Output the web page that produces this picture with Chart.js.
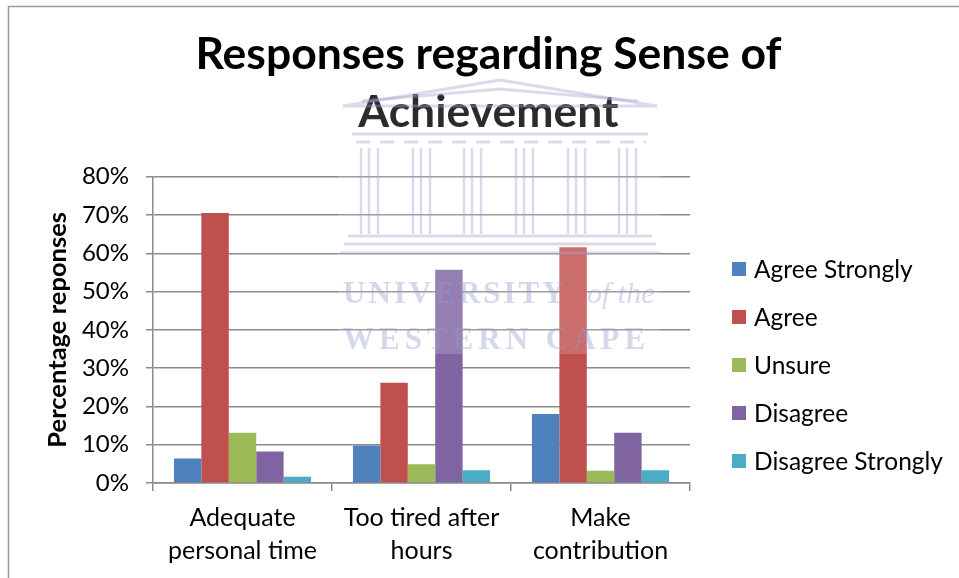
<!DOCTYPE html>
<html>
<head>
<meta charset="utf-8">
<script src="https://cdn.jsdelivr.net/npm/chart.js@4.4.1/dist/chart.umd.min.js"></script>
<style>
html,body{margin:0;padding:0;background:#fff;}
#wrap{width:959px;height:578px;position:relative;}
</style>
</head>
<body>
<div id="wrap"><canvas id="c" width="959" height="578"></canvas></div>
<script>
// ---- data ----
const categories = [['Adequate', 'personal time'], ['Too tired after', 'hours'], ['Make', 'contribution']];
const seriesNames = ['Agree Strongly', 'Agree', 'Unsure', 'Disagree', 'Disagree Strongly'];
const agreeStrongly = [6.4, 9.8, 18.0];
const agree = [70.5, 26.2, 61.6];
const unsure = [13.1, 4.9, 3.2];
const disagree = [8.2, 55.7, 13.1];
const disagreeStrongly = [1.6, 3.3, 3.3];
const yTickMin = 0, yTickMax = 80, yTickStep = 10;
const titleLines = ['Responses regarding Sense of', 'Achievement'];
const yAxisTitle = 'Percentage reponses';
const watermarkLines = ['UNIVERSITY', 'of the', 'WESTERN CAPE'];

const colors = ['#4F81BD', '#C0504D', '#9BBB59', '#8064A2', '#4BACC6'];
const seriesValues = [agreeStrongly, agree, unsure, disagree, disagreeStrongly];

const FONT = 'Lato';

const framePlugin = {
  id: 'frame',
  beforeDraw(chart) {
    const ctx = chart.ctx;
    ctx.save();
    ctx.fillStyle = '#fff';
    ctx.fillRect(0, 0, chart.width, chart.height);
    ctx.strokeStyle = '#9a9a9a';
    ctx.lineWidth = 1.5;
    ctx.beginPath();
    ctx.moveTo(8.5, chart.height + 2);
    ctx.lineTo(8.5, 6.5);
    ctx.lineTo(chart.width + 2, 6.5);
    ctx.stroke();
    ctx.restore();
  }
};

const watermarkPlugin = {
  id: 'watermark',
  afterDatasetsDraw(chart) {
    const ctx = chart.ctx;
    ctx.save();
    ctx.fillStyle = 'rgba(255,255,255,0.17)';
    ctx.fillRect(338, 76, 322, 278);
    ctx.strokeStyle = 'rgba(160,165,208,0.40)';
    ctx.lineWidth = 3;
    // pediment
    ctx.beginPath();
    ctx.moveTo(343, 106); ctx.lineTo(500, 80); ctx.lineTo(657, 106); ctx.closePath();
    ctx.stroke();
    ctx.beginPath();
    ctx.moveTo(362, 101); ctx.lineTo(500, 89); ctx.lineTo(638, 101);
    ctx.stroke();
    // entablature
    ctx.beginPath();
    ctx.moveTo(352, 134); ctx.lineTo(648, 134);
    ctx.stroke();
    ctx.setLineDash([14, 10]);
    ctx.beginPath();
    ctx.moveTo(356, 142); ctx.lineTo(646, 142);
    ctx.stroke();
    ctx.setLineDash([]);
    // columns
    ctx.lineWidth = 2.5;
    [370, 422, 473, 525, 577, 628].forEach(cx => {
      ctx.beginPath();
      ctx.moveTo(cx - 9, 148); ctx.lineTo(cx - 9, 234);
      ctx.moveTo(cx - 1, 148); ctx.lineTo(cx - 1, 234);
      ctx.moveTo(cx + 8, 148); ctx.lineTo(cx + 8, 234);
      ctx.stroke();
    });
    // base steps
    ctx.lineWidth = 3;
    ctx.beginPath();
    ctx.moveTo(348, 236); ctx.lineTo(652, 236);
    ctx.moveTo(344, 244); ctx.lineTo(656, 244);
    ctx.moveTo(340, 253); ctx.lineTo(660, 253);
    ctx.stroke();
    // text
    ctx.fillStyle = 'rgba(150,155,205,0.40)';
    ctx.textBaseline = 'alphabetic';
    ctx.textAlign = 'left';
    ctx.font = 'bold 31px "Liberation Serif"';
    try { ctx.letterSpacing = '3px'; } catch (e) {}
    ctx.fillText(watermarkLines[0], 343, 303);
    try { ctx.letterSpacing = '0px'; } catch (e) {}
    ctx.font = 'italic 30px "Liberation Serif"';
    ctx.fillText(watermarkLines[1], 587, 303);
    ctx.font = 'bold 31px "Liberation Serif"';
    try { ctx.letterSpacing = '5px'; } catch (e) {}
    ctx.fillText(watermarkLines[2], 343, 349);
    try { ctx.letterSpacing = '0px'; } catch (e) {}
    ctx.restore();
  }
};

const legendPlugin = {
  id: 'sideLegend',
  afterDraw(chart) {
    const ctx = chart.ctx;
    ctx.save();
    const x0 = chart.chartArea.right + 42;
    const y0 = 269, step = 48;
    ctx.font = '24.5px ' + FONT;
    ctx.textBaseline = 'middle';
    ctx.textAlign = 'left';
    chart.data.datasets.forEach((ds, i) => {
      const y = y0 + i * step;
      ctx.fillStyle = ds.backgroundColor;
      ctx.fillRect(x0, y - 7, 14, 14);
      ctx.fillStyle = '#000';
      ctx.fillText(ds.label, x0 + 22, y + 1);
    });
    ctx.restore();
  }
};

const datasets = seriesNames.map((name, i) => ({
  label: name,
  data: seriesValues[i],
  backgroundColor: colors[i],
  borderWidth: 0,
  barPercentage: 1.0,
  categoryPercentage: 0.766
}));

new Chart(document.getElementById('c'), {
  type: 'bar',
  data: { labels: categories, datasets },
  options: {
    responsive: false,
    animation: false,
    devicePixelRatio: 1,
    layout: { padding: { left: 20, right: 2, top: 8, bottom: 0 } },
    plugins: {
      legend: { display: false },
      tooltip: { enabled: false },
      title: {
        display: true,
        text: titleLines,
        color: '#000',
        font: { family: FONT, size: 44.5, weight: 'bold', lineHeight: 1.3 },
        padding: { top: 18, bottom: 35 },
        z: 1
      }
    },
    scales: {
      x: {
        offset: true,
        grid: { display: true, drawOnChartArea: false, drawTicks: true, tickLength: 8, color: '#8a8a8a', lineWidth: 1.5, offset: true },
        border: { color: '#8a8a8a', width: 1.5 },
        ticks: { font: { family: FONT, size: 25, lineHeight: 1.3 }, color: '#000', padding: 11, maxRotation: 0, autoSkip: false }
      },
      y: {
        min: yTickMin,
        max: yTickMax,
        ticks: { stepSize: yTickStep, callback: v => v + '%', font: { family: FONT, size: 24 }, color: '#000', padding: 17 },
        grid: { color: '#8a8a8a', lineWidth: 1.5, tickLength: 7, drawTicks: true },
        border: { color: '#8a8a8a', width: 1.5 },
        title: { display: true, text: yAxisTitle, color: '#000', font: { family: FONT, size: 25.5, weight: 'bold' }, padding: { top: 22, bottom: 0 } },
        afterFit(scale) { scale.width = 133; }
      },
      legendSpace: {
        position: 'right',
        display: true,
        grid: { display: false, drawTicks: false },
        border: { display: false },
        ticks: { display: false },
        afterFit(scale) { scale.width = 267; }
      }
    }
  },
  plugins: [framePlugin, watermarkPlugin, legendPlugin]
});
</script>
</body>
</html>
